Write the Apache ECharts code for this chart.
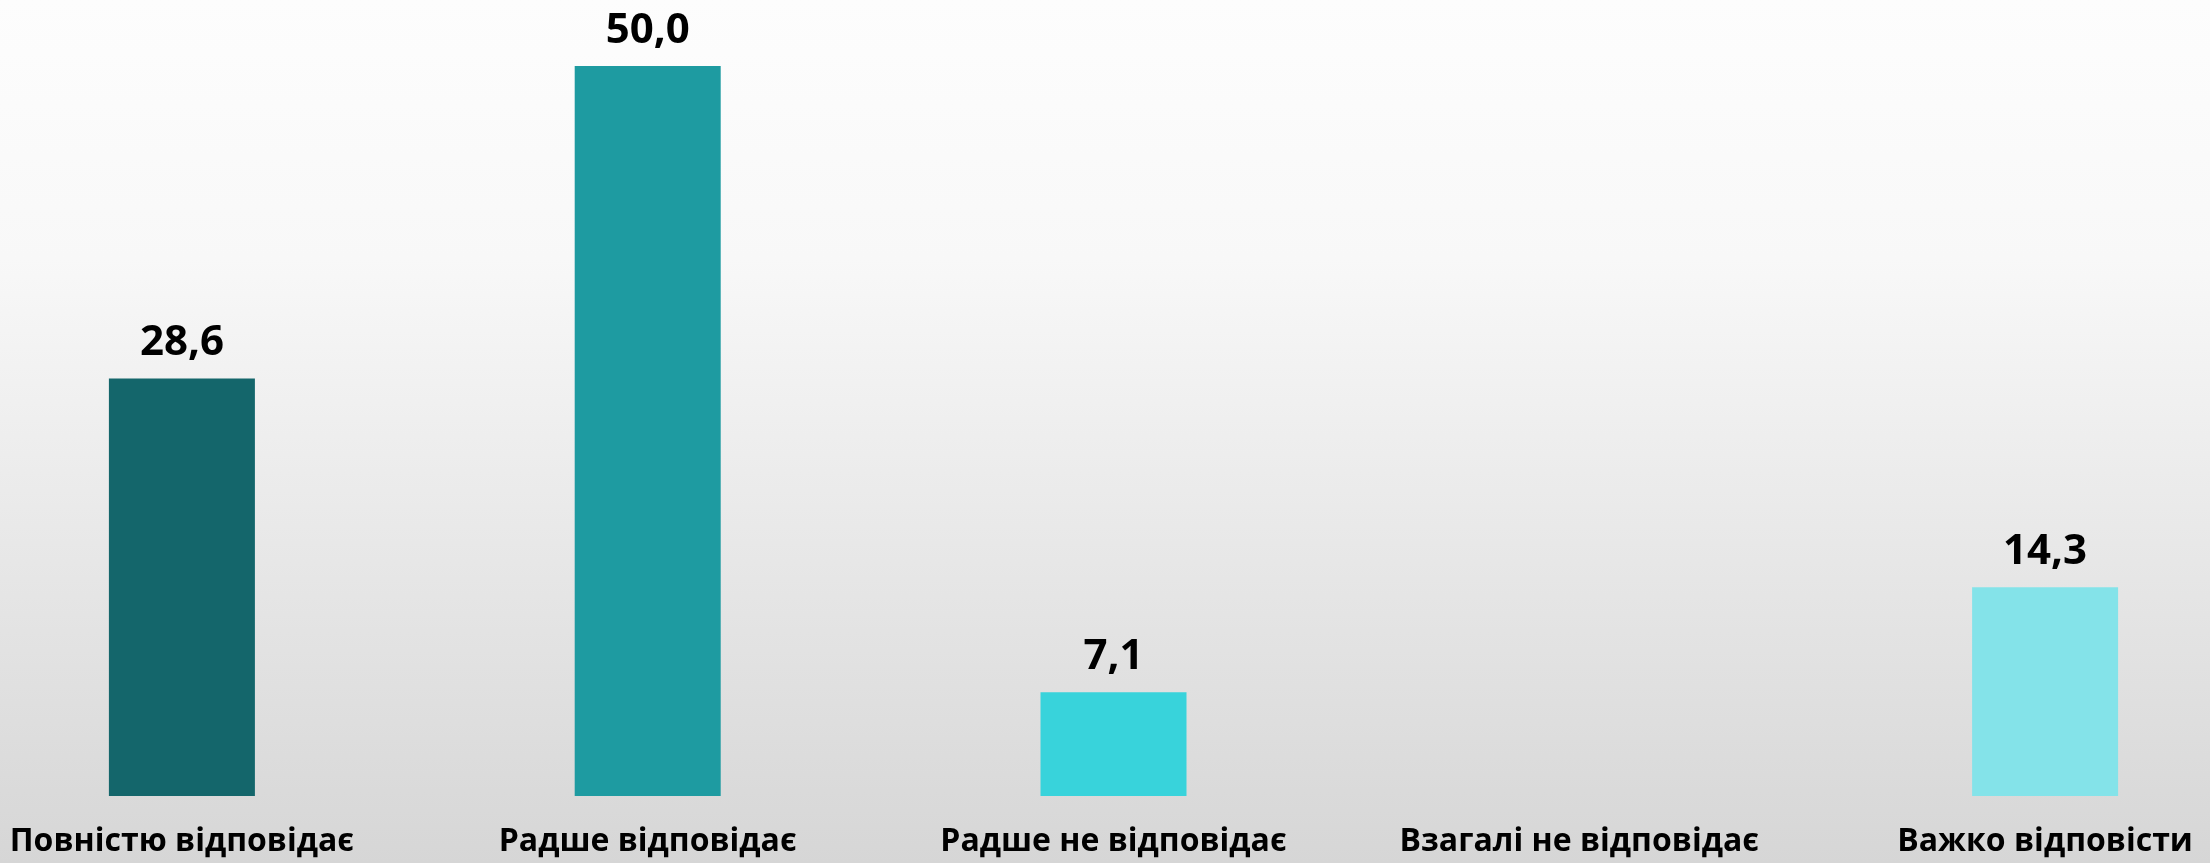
<!DOCTYPE html>
<html>
<head>
<meta charset="utf-8">
<script src="https://cdn.jsdelivr.net/npm/echarts@6/dist/echarts.min.js"></script>
<style>
  html, body { margin: 0; padding: 0; }
  #chart { width: 2210px; height: 863px; }
</style>
</head>
<body>
<div id="chart"></div>
<script>
// Дані
const categories = ['Повністю відповідає', 'Радше відповідає', 'Радше не відповідає', 'Взагалі не відповідає', 'Важко відповісти'];
const values = [28.6, 50.0, 7.1, null, 14.3];
const barColors = ['#14666b', '#1e9ba1', '#38d3db', '#38d3db', '#84e3e9'];

let chart = echarts.init(document.getElementById('chart'));

let option = {
    // фон з градієнтом
    backgroundColor: {
        type: 'linear', x: 0, y: 0, x2: 0, y2: 1,
        colorStops: [
            { offset: 0, color: '#fdfdfd' },
            { offset: 0.3, color: '#f8f8f8' },
            { offset: 1, color: '#d6d6d6' },
        ],
    },
    grid: {
        left: -51,
        right: -68,
        top: 66,
        bottom: 67,
        outerBoundsMode: 'none',
        containLabel: false,
    },
    xAxis: {
        type: 'category',
        data: categories,
        axisLine: { show: false },
        axisTick: { show: false },
        axisLabel: {
            interval: 0,
            margin: 30,
            color: '#000',
            fontFamily: 'Open Sans',
            fontWeight: 'bold',
            fontSize: 32,
        },
    },
    yAxis: {
        type: 'value',
        min: 0,
        max: 50,
        show: false,
        splitLine: { show: false },
    },
    series: [
        {
            type: 'bar',
            data: values.map(function (v, i) {
                return { value: v, itemStyle: { color: barColors[i] } };
            }),
            barWidth: 146,
            label: {
                show: true,
                position: 'top',
                distance: 14,
                color: '#000',
                fontFamily: 'Open Sans',
                fontWeight: 'bold',
                fontSize: 42,
                formatter: function (p) {
                    return p.value == null ? '' : p.value.toFixed(1).replace('.', ',');
                },
            },
        },
    ],
};

chart.setOption(option);
</script>
</body>
</html>
